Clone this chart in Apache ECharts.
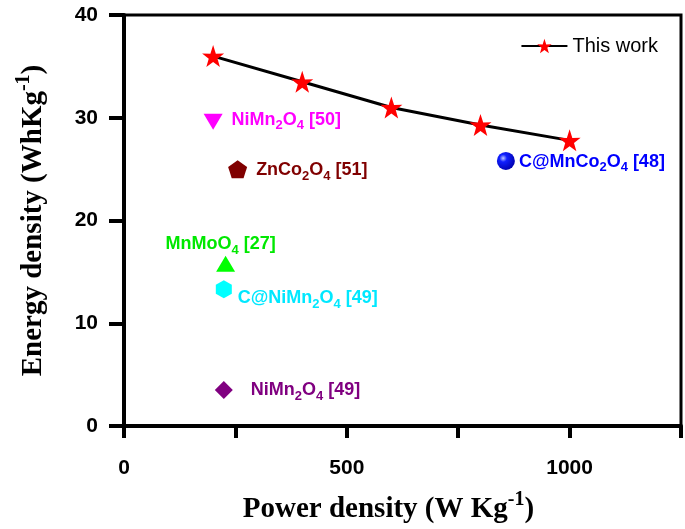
<!DOCTYPE html>
<html><head><meta charset="utf-8">
<script src="https://cdn.jsdelivr.net/npm/echarts@6/dist/echarts.min.js"></script>
<style>html,body{margin:0;padding:0;background:#fff}#c{width:685px;height:529px}</style>
</head><body><div id="c"></div>
<script>
// ---- data ----
const workPower = [200, 400, 600, 800, 1000];
const workEnergy = [36.0, 33.5, 31.0, 29.3, 27.8];
const refLabels = ['NiMn{s|2}O{s|4} [50]', 'ZnCo{s|2}O{s|4} [51]', 'C@MnCo{s|2}O{s|4} [48]', 'MnMoO{s|4} [27]', 'C@NiMn{s|2}O{s|4} [49]', 'NiMn{s|2}O{s|4} [49]'];
const refPower = [200, 255, 857, 228, 224, 224];
const refEnergy = [29.6, 25.0, 25.8, 15.8, 13.3, 3.5];
const xTicks = [0, 500, 1000];
const yTicks = [0, 10, 20, 30, 40];

// ---- styles ----
const refColors = ['#ff00ff', '#800000', '#0000ff', '#00ff00', '#00ffff', '#800080'];
const refLabelColors = ['#ff00ff', '#800000', '#0000ff', '#00e800', '#00e8ff', '#800080'];
const refSymbols = [
  'path://M0,0 L12,0 L6,10 Z',
  'path://M5,0 L10,3.8 L8.1,10 L1.9,10 L0,3.8 Z',
  'circle',
  'path://M6,0 L12,10 L0,10 Z',
  'path://M4.33,0 L8.66,2.5 L8.66,7.5 L4.33,10 L0,7.5 L0,2.5 Z',
  'path://M5,0 L10,5 L5,10 L0,5 Z'
];
const refSizes = [[19, 16], [19, 18], 18, [19, 16], [16, 18], [18, 18]];
const refLabelPos = [
  {position: 'right', distance: 9, offset: [0, -2]},
  {position: 'right', distance: 9, offset: [0, 1]},
  {position: 'right', distance: 4, offset: [0, 1]},
  {position: 'top', distance: 4, offset: [-5, 5]},
  {position: 'right', distance: 6, offset: [0, 9]},
  {position: 'right', distance: 18, offset: [0, 0]}
];

const chart = echarts.init(document.getElementById('c'), null, {renderer: 'canvas'});

const refSeries = refLabels.map((lab, i) => ({
  type: 'scatter',
  name: 'ref' + i,
  symbol: refSymbols[i],
  symbolSize: refSizes[i],
  itemStyle: {
    opacity: 1,
    color: i === 2 ? new echarts.graphic.RadialGradient(0.35, 0.35, 0.7, [
      {offset: 0, color: '#c0c8ff'}, {offset: 0.3, color: '#1020ff'}, {offset: 1, color: '#0000b0'}]) : refColors[i]
  },
  data: [[refPower[i], refEnergy[i]]],
  label: Object.assign({
    show: true,
    formatter: lab,
    color: refLabelColors[i],
    fontFamily: 'Liberation Sans, Arial',
    fontWeight: 'bold',
    fontSize: 18,
    lineHeight: 24,
    rich: {
      s: {fontSize: 13, fontWeight: 'bold', fontFamily: 'Liberation Sans, Arial', color: refLabelColors[i], verticalAlign: 'bottom', lineHeight: 25}
    }
  }, refLabelPos[i]),
  z: 3
}));

const nameRich = {
  b: {fontFamily: 'Liberation Serif, Times New Roman', fontWeight: 'bold', fontSize: 29, color: '#000', lineHeight: 34, verticalAlign: 'bottom'},
  sup: {fontFamily: 'Liberation Serif, Times New Roman', fontWeight: 'bold', fontSize: 20, color: '#000', lineHeight: 34, verticalAlign: 'top'}
};

const option = {
  animation: false,
  backgroundColor: '#fff',
  grid: {left: 124, right: 4, top: 15, bottom: 101, show: true, borderColor: '#000', borderWidth: 3, backgroundColor: 'transparent'},
  legend: {
    data: ['This work'], right: 22, top: 31, itemWidth: 46, itemHeight: 18, itemGap: 6,
    textStyle: {fontFamily: 'Liberation Sans, Arial', fontSize: 20, color: '#000'}
  },
  xAxis: {
    type: 'value', min: 0, max: 1250, interval: 250,
    splitLine: {show: false},
    axisLine: {onZero: false, lineStyle: {color: '#000', width: 4}},
    axisTick: {show: true, inside: false, length: 12, lineStyle: {width: 4, color: '#000'}},
    axisLabel: {
      margin: 32, color: '#000', fontFamily: 'Liberation Sans, Arial', fontWeight: 'bold', fontSize: 21,
      formatter: v => xTicks.indexOf(v) >= 0 ? String(v) : ''
    },
    name: '{b|Power density (W Kg}{sup|-1}{b|)}',
    nameLocation: 'middle', nameGap: 64,
    nameTextStyle: {rich: nameRich, padding: [0, 28, 0, 0]}
  },
  yAxis: {
    type: 'value', min: 0, max: 40, interval: 10,
    splitLine: {show: false},
    axisLine: {onZero: false, lineStyle: {color: '#000', width: 4}},
    axisTick: {show: true, inside: false, length: 15, lineStyle: {width: 4, color: '#000'}},
    axisLabel: {
      margin: 26, color: '#000', fontFamily: 'Liberation Sans, Arial', fontWeight: 'bold', fontSize: 21,
      formatter: v => yTicks.indexOf(v) >= 0 ? String(v) : ''
    },
    name: '{b|Energy density (WhKg}{sup|-1}{b|)}',
    nameLocation: 'middle', nameGap: 76, nameRotate: 90,
    nameTextStyle: {rich: nameRich}
  },
  series: [{
    type: 'line',
    name: 'This work',
    data: workPower.map((p, i) => [p, workEnergy[i]]),
    symbol: 'path://M50,0 L61.8,35.5 L97.6,34.5 L69,56 L79.4,90.5 L50,70 L20.6,90.5 L31,56 L2.4,34.5 L38.2,35.5 Z',
    symbolSize: 22,
    itemStyle: {color: '#ff0000'},
    lineStyle: {color: '#000', width: 3},
    z: 4
  }].concat(refSeries)
};
chart.setOption(option);
</script>
</body></html>
